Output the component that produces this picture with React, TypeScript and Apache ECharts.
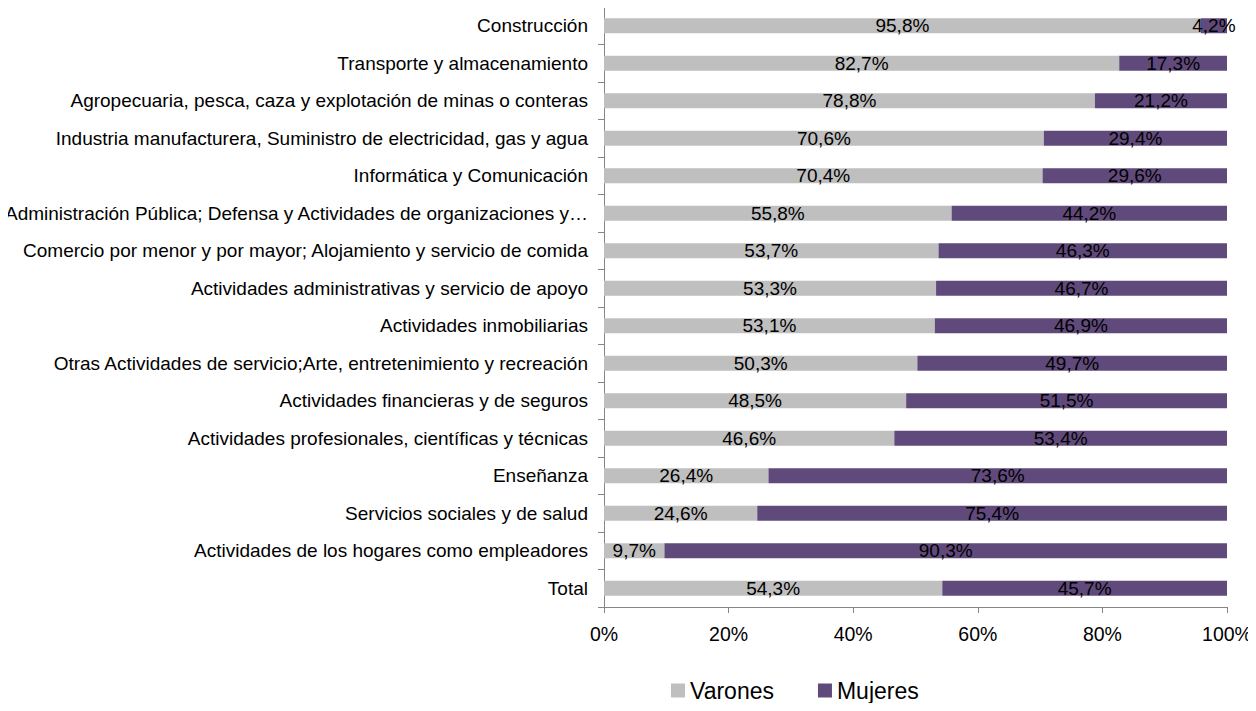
import React, { useEffect, useRef } from "react";
import * as echarts from "echarts";

const categories = [
  "Construcción",
  "Transporte y almacenamiento",
  "Agropecuaria, pesca, caza y explotación de minas o conteras",
  "Industria manufacturera, Suministro de electricidad, gas y agua",
  "Informática y Comunicación",
  "Administración Pública; Defensa y Actividades de organizaciones y…",
  "Comercio por menor y por mayor; Alojamiento y servicio de comida",
  "Actividades administrativas y servicio de apoyo",
  "Actividades inmobiliarias",
  "Otras Actividades de servicio;Arte, entretenimiento y recreación",
  "Actividades financieras y de seguros",
  "Actividades profesionales, científicas y técnicas",
  "Enseñanza",
  "Servicios sociales y de salud",
  "Actividades de los hogares como empleadores",
  "Total",
];

const varones = [95.8, 82.7, 78.8, 70.6, 70.4, 55.8, 53.7, 53.3, 53.1, 50.3, 48.5, 46.6, 26.4, 24.6, 9.7, 54.3];
const mujeres = [4.2, 17.3, 21.2, 29.4, 29.6, 44.2, 46.3, 46.7, 46.9, 49.7, 51.5, 53.4, 73.6, 75.4, 90.3, 45.7];

const xTicks = [0, 20, 40, 60, 80, 100];

const FONT = "Liberation Sans";

export default function App() {
  const ref = useRef<HTMLDivElement>(null);
  useEffect(() => {
    if (!ref.current) return;
    const chart = echarts.init(ref.current, undefined, { renderer: "svg" });
    const fmt = (v: number) => v.toFixed(1).replace(".", ",") + "%";
    const labelCfg = {
      show: true,
      position: "inside",
      color: "#000",
      fontFamily: FONT,
      fontSize: 19,
      formatter: (p: any) => fmt(p.value),
    };
    chart.setOption({
      animation: false,
      textStyle: { fontFamily: FONT },
      grid: {
        left: 604,
        right: 29,
        top: 7,
        bottom: 104,
        containLabel: false,
        outerBoundsMode: "none",
      },
      legend: {
        data: ["Varones", "Mujeres"],
        left: 666,
        bottom: 4,
        itemWidth: 14,
        itemHeight: 14,
        itemGap: 44,
        icon: "rect",
        textStyle: { fontFamily: FONT, fontSize: 23, color: "#000" },
      },
      xAxis: {
        type: "value",
        min: 0,
        max: 100,
        interval: 20,
        splitLine: { show: false },
        axisLine: { show: true, lineStyle: { color: "#868686" } },
        axisTick: { show: true, length: 6, lineStyle: { color: "#868686" } },
        axisLabel: {
          margin: 17,
          color: "#000",
          fontFamily: FONT,
          fontSize: 19.5,
          formatter: (v: number) => (xTicks.includes(v) ? v + "%" : ""),
        },
      },
      yAxis: {
        type: "category",
        data: categories,
        inverse: true,
        axisLine: { show: true, lineStyle: { color: "#868686" } },
        axisTick: { show: true, length: 6, alignWithLabel: false, lineStyle: { color: "#868686" } },
        axisLabel: { margin: 16, color: "#000", fontFamily: FONT, fontSize: 19 },
      },
      series: [
        {
          name: "Varones",
          type: "bar",
          stack: "total",
          data: varones,
          barWidth: 15,
          itemStyle: { color: "#BFBFBF" },
          label: labelCfg,
        },
        {
          name: "Mujeres",
          type: "bar",
          stack: "total",
          data: mujeres,
          barWidth: 15,
          itemStyle: { color: "#604A7B" },
          label: labelCfg,
        },
      ],
    });
    return () => chart.dispose();
  }, []);
  return <div ref={ref} style={{ width: 1256, height: 711, margin: -8 }} />;
}
